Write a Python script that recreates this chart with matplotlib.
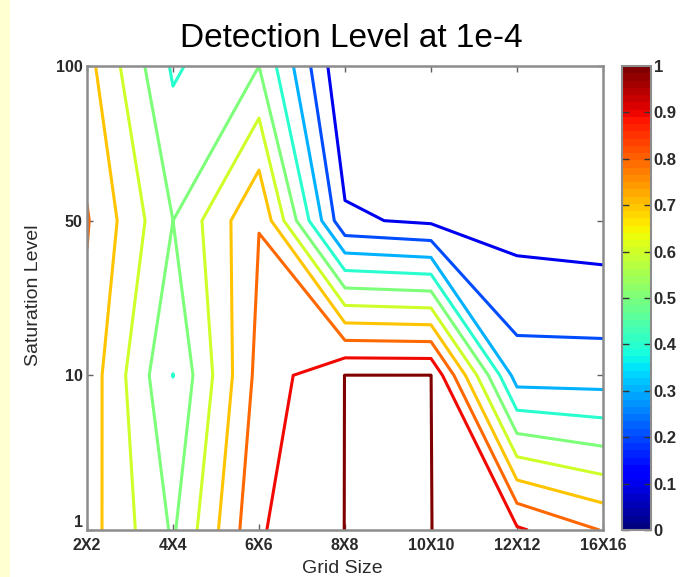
import matplotlib
matplotlib.use('Agg')
import matplotlib.pyplot as plt
import numpy as np
from matplotlib.colors import Normalize
from matplotlib.colorbar import ColorbarBase
from matplotlib.patches import Rectangle

# ---------------- data ----------------
grid_sizes = ['2X2', '4X4', '6X6', '8X8', '10X10', '12X12', '16X16']
saturation_levels = ['1', '10', '50', '100']
det_sat_1 = [0.745, 0.487, 0.890, 1.000, 1.000, 0.915, 0.795]
det_sat_10 = [0.764, 0.399, 0.834, 1.000, 1.000, 0.250, 0.250]
det_sat_50 = [0.808, 0.500, 0.797, 0.115, 0.082, 0.056, 0.040]
det_sat_100 = [0.735, 0.385, 0.500, 0.000, 0.000, 0.000, 0.000]
contour_levels = [0.1, 0.2, 0.3, 0.4, 0.5, 0.6, 0.7, 0.8, 0.9, 1.0]
cbar_ticks = [0, 0.1, 0.2, 0.3, 0.4, 0.5, 0.6, 0.7, 0.8, 0.9, 1]

W, H = 684, 577
plt.rcParams['font.family'] = ['Liberation Sans', 'DejaVu Sans']

fig = plt.figure(figsize=(W / 100, H / 100), dpi=100)
fig.patch.set_facecolor('white')
fig.patches.append(Rectangle((0, 0), 10 / W, 1, transform=fig.transFigure,
                             facecolor='#FFFFD2', edgecolor='none', zorder=0))

ax = fig.add_axes([87 / W, 47 / H, 516 / W, 464 / H])
Z = np.array([det_sat_1, det_sat_10, det_sat_50, det_sat_100])
X = np.arange(len(grid_sizes))
Y = np.arange(len(saturation_levels))

cmap = plt.get_cmap('jet')
norm = Normalize(vmin=0, vmax=1)
line_colors = [cmap(norm(l)) for l in contour_levels]
# the top level sits exactly on a plateau; trace it just below the plateau value
draw_levels = [min(l, 0.999) for l in contour_levels]
ax.contour(X, Y, Z, levels=draw_levels, colors=line_colors, linewidths=2.2)

ax.set_xlim(X[0], X[-1])
ax.set_ylim(Y[0], Y[-1])
ax.set_xticks(X)
ax.set_xticklabels(grid_sizes)
ax.set_yticks(Y)
ax.set_yticklabels(saturation_levels)
for s in ax.spines.values():
    s.set_color('#8c8c8c')
    s.set_linewidth(1.8)
ax.tick_params(direction='in', length=4, width=1, color='#606060',
               top=True, right=True, labelsize=11.5, labelcolor='#2a2a2a', pad=3)
for lab in ax.get_xticklabels() + ax.get_yticklabels():
    lab.set_fontweight('bold')
ax.tick_params(axis='x', pad=6)
# the lowest y label sits a touch above its tick, as in the reference
ax.get_yticklabels()[0].set_verticalalignment('bottom')

# colorbar
cax = fig.add_axes([622 / W, 47 / H, 29 / W, 464 / H])
cb = ColorbarBase(cax, cmap=plt.get_cmap('jet', 64), norm=norm, ticks=cbar_ticks)
cb.set_ticklabels(['0', '0.1', '0.2', '0.3', '0.4', '0.5', '0.6', '0.7', '0.8', '0.9', '1'])
cb.outline.set_edgecolor('#8c8c8c')
cb.outline.set_linewidth(1.5)
cax.tick_params(direction='in', length=5, width=1, color='#333333', left=True, right=True,
                labelsize=12, labelcolor='#2a2a2a', pad=2)
for lab in cax.get_yticklabels():
    lab.set_fontweight('bold')

fig.text(351 / W, 1 - 47 / H, 'Detection Level at 1e-4', ha='center', va='baseline',
         fontsize=24, color='black')
fig.text(342 / W, 1 - 573 / H, 'Grid Size', ha='center', va='baseline',
         fontsize=14, color='#2a2a2a')
fig.text(33 / W, 1 - 295 / H, 'Saturation Level', ha='center', va='center',
         rotation=90, fontsize=14, color='#2a2a2a')

fig.savefig('out.png', dpi=100)
